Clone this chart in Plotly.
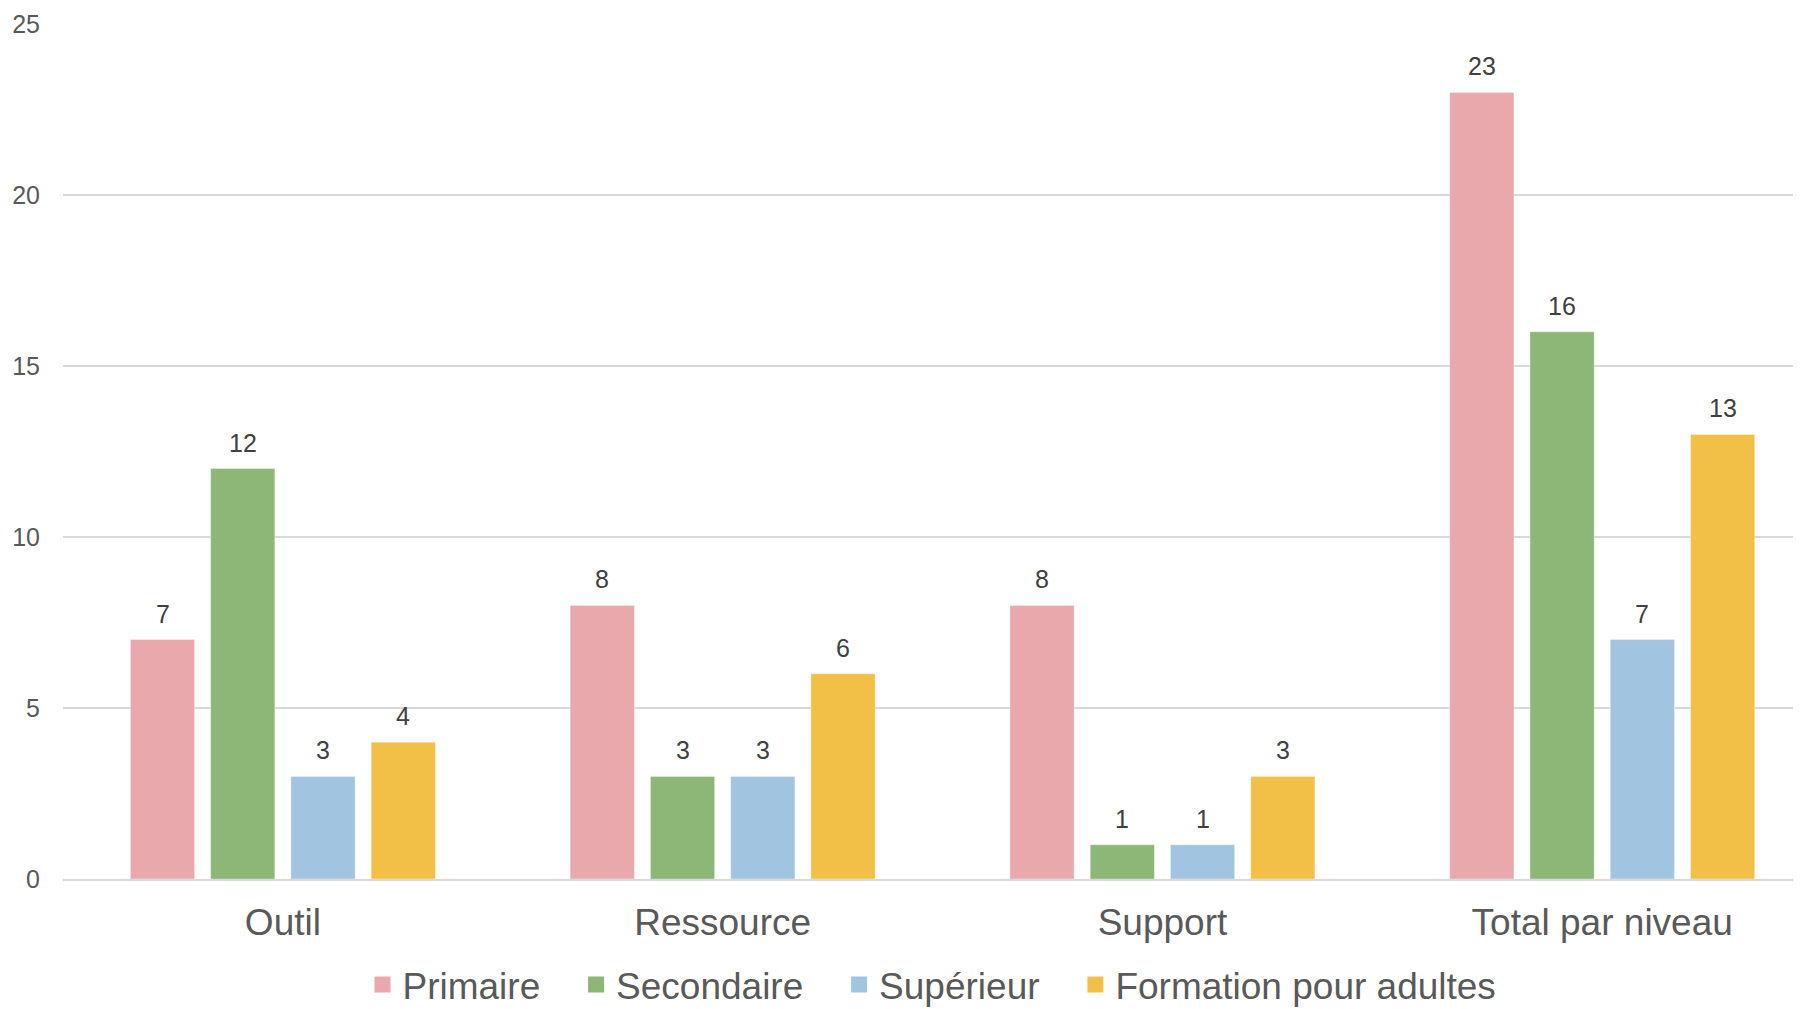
import plotly.graph_objects as go

categories = ["Outil", "Ressource", "Support", "Total par niveau"]
series_names = ["Primaire", "Secondaire", "Supérieur", "Formation pour adultes"]
primaire = [7, 8, 8, 23]
secondaire = [12, 3, 1, 16]
superieur = [3, 3, 1, 7]
formation = [4, 6, 3, 13]
y_ticks = [0, 5, 10, 15, 20, 25]

series_values = [primaire, secondaire, superieur, formation]
colors = ["#E8A8AC", "#8DB777", "#A1C4E0", "#F2C046"]

# page has an 8px body margin; figure is sized so it ends at the window edge
W, H = 1793, 1001
ML, MR, MT, MB = 55, 0, 16, 130
x_range = [-0.5, 3.452]
bargap = 0.27
bargroupgap = 0.2

font_family = "Liberation Sans, Arial, sans-serif"
NB = "\u00a0"

fig = go.Figure()
for name, vals, col in zip(series_names, series_values, colors):
    fig.add_trace(go.Bar(
        x=categories, y=vals, name=name, showlegend=False,
        marker=dict(color=col, line=dict(color="rgba(255,255,255,0.35)", width=1)),
    ))
# legend entries with larger square swatches
for k, (name, col) in enumerate(zip(series_names, colors)):
    pad = NB * 3 if k < len(series_names) - 1 else ""
    fig.add_trace(go.Scatter(
        x=[None], y=[None], name=name + pad, mode="markers",
        marker=dict(symbol="square", size=19, color=col),
    ))

# data labels
plot_w = W - ML - MR
px_per_cat = plot_w / (x_range[1] - x_range[0])
slot = px_per_cat * (1 - bargap) / len(series_names)
annotations = []
for i, vals in enumerate(series_values):
    for cat, v in zip(categories, vals):
        annotations.append(dict(
            x=cat, y=v, xref="x", yref="y", text=str(v), showarrow=False,
            xshift=(i - (len(series_names) - 1) / 2) * slot,
            yanchor="bottom", yshift=10,
            font=dict(family=font_family, size=25, color="#404040"),
        ))

fig.update_layout(
    width=W, height=H,
    margin=dict(l=ML, r=MR, t=MT, b=MB, autoexpand=False),
    paper_bgcolor="white", plot_bgcolor="white",
    barmode="group", bargap=bargap, bargroupgap=bargroupgap,
    font=dict(family=font_family, color="#595959"),
    annotations=annotations,
    legend=dict(
        orientation="h", x=0.5, xanchor="center",
        yref="container", y=1 - 977 / H, yanchor="middle",
        font=dict(family=font_family, size=37, color="#595959"),
        itemsizing="trace", traceorder="normal",
    ),
    xaxis=dict(
        range=x_range, showgrid=False, showline=True, linecolor="#D9D9D9", linewidth=2,
        tickfont=dict(family=font_family, size=37, color="#595959"),
        ticks="", ticklabelstandoff=10, automargin=False,
    ),
    yaxis=dict(
        range=[0, 25], tickvals=y_ticks, showgrid=True, gridcolor="#D9D9D9", gridwidth=1.5,
        zeroline=False, showline=False, ticks="",
        tickfont=dict(family=font_family, size=25, color="#595959"),
        ticklabelstandoff=22, automargin=False,
    ),
)

fig.write_html("out.html")
